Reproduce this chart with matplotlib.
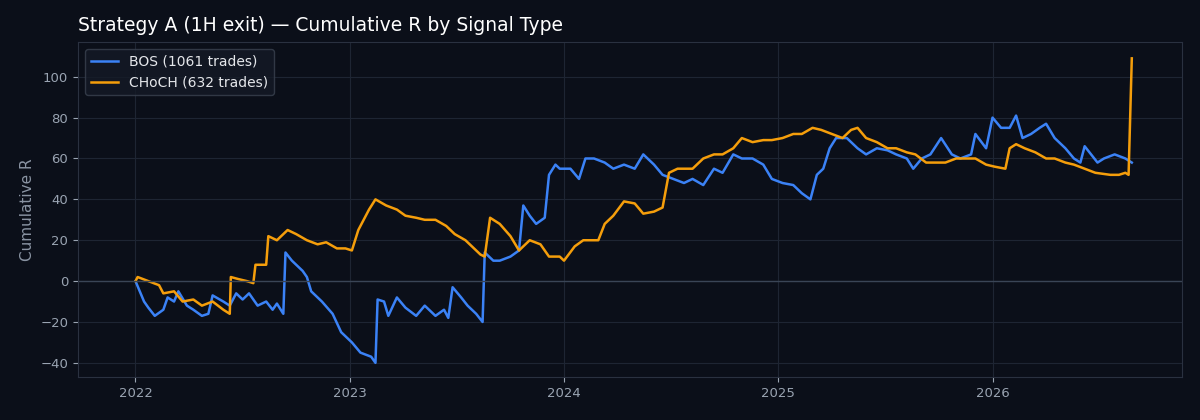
import matplotlib
matplotlib.use("Agg")
import matplotlib.pyplot as plt
import pandas as pd
import numpy as np

# years elapsed since 2022-01-01, cumulative R
bos_t = [0.00,.04,.06,.09,.13,.15,.18,.20,.24,.27,.31,.34,.36,.41,.44,.47,.50,.53,.57,.61,.64,.66,.69,.70,.73,.78,.80,.82,.87,.92,.96,1.01,1.05,1.10,1.12,1.13,1.16,1.18,1.22,1.26,1.31,1.35,1.40,1.44,1.46,1.48,1.52,1.55,1.59,1.62,1.63,1.67,1.70,1.75,1.79,1.81,1.84,1.87,1.91,1.93,1.96,1.98,2.03,2.07,2.10,2.14,2.19,2.23,2.28,2.33,2.37,2.42,2.46,2.51,2.56,2.60,2.65,2.70,2.74,2.79,2.83,2.88,2.93,2.97,3.02,3.07,3.11,3.15,3.18,3.21,3.24,3.27,3.32,3.37,3.41,3.46,3.51,3.55,3.60,3.63,3.67,3.71,3.76,3.81,3.85,3.90,3.92,3.97,4.00,4.04,4.08,4.11,4.14,4.18,4.22,4.25,4.29,4.34,4.38,4.41,4.43,4.46,4.49,4.52,4.57,4.62,4.65]
bos_r = [0,-10,-13,-17,-14,-8,-10,-5,-12,-14,-17,-16,-7,-10,-12,-6,-9,-6,-12,-10,-14,-11,-16,14,10,5,2,-5,-10,-16,-25,-30,-35,-37,-40,-9,-10,-17,-8,-13,-17,-12,-17,-14,-18,-3,-8,-12,-16,-20,14,10,10,12,15,37,32,28,31,52,57,55,55,50,60,60,58,55,57,55,62,57,52,50,48,50,47,55,53,62,60,60,57,50,48,47,43,40,52,55,65,70,70,65,62,65,64,62,60,55,60,62,70,62,60,62,72,65,80,75,75,81,70,72,75,77,70,65,60,58,66,62,58,60,62,60,58]
choch_t = [0.00,.01,.06,.11,.13,.18,.22,.27,.31,.36,.41,.44,.445,.48,.52,.55,.56,.61,.62,.66,.71,.75,.80,.85,.89,.94,.98,1.01,1.04,1.09,1.12,1.17,1.22,1.26,1.31,1.35,1.40,1.45,1.49,1.54,1.59,1.61,1.63,1.655,1.70,1.75,1.79,1.84,1.89,1.93,1.98,2.00,2.05,2.09,2.16,2.19,2.23,2.28,2.33,2.37,2.42,2.46,2.49,2.53,2.60,2.65,2.70,2.74,2.79,2.83,2.88,2.93,2.97,3.02,3.07,3.11,3.16,3.20,3.25,3.30,3.34,3.37,3.41,3.46,3.51,3.55,3.60,3.64,3.69,3.74,3.78,3.83,3.88,3.92,3.97,4.01,4.06,4.08,4.11,4.15,4.20,4.25,4.29,4.34,4.38,4.43,4.48,4.55,4.59,4.62,4.635,4.65]
choch_r = [0,2,0,-2,-6,-5,-10,-9,-12,-10,-14,-16,2,1,0,-1,8,8,22,20,25,23,20,18,19,16,16,15,25,35,40,37,35,32,31,30,30,27,23,20,15,13,12,31,28,22,15,20,18,12,12,10,17,20,20,28,32,39,38,33,34,36,53,55,55,60,62,62,65,70,68,69,69,70,72,72,75,74,72,70,74,75,70,68,65,65,63,62,58,58,58,60,60,60,57,56,55,65,67,65,63,60,60,58,57,55,53,52,52,53,52,109]

start = pd.Timestamp("2022-01-01")
def to_dates(t):
    return [start + pd.Timedelta(days=v * 365.25) for v in t]

bg = "#0b0f19"
fig = plt.figure(figsize=(12, 4.2), dpi=100, facecolor=bg)
ax = fig.add_axes([0.065, 0.102, 0.92, 0.798], facecolor=bg)
ax.plot(to_dates(bos_t), bos_r, color="#3b82f6", lw=1.8, label="BOS (1061 trades)")
ax.plot(to_dates(choch_t), choch_r, color="#f59e0b", lw=1.8, label="CHoCH (632 trades)")
ax.axhline(0, color="#3a4556", lw=1)
ax.grid(True, color="#1e2533", lw=0.8)
ax.set_axisbelow(True)
ax.set_ylim(-47, 117)
ax.set_yticks([-40, -20, 0, 20, 40, 60, 80, 100])
ax.set_xlim(pd.Timestamp("2021-09-25"), pd.Timestamp("2026-11-20"))
ax.set_xticks([pd.Timestamp(f"{y}-01-01") for y in range(2022, 2027)])
ax.set_xticklabels([str(y) for y in range(2022, 2027)])
for s in ax.spines.values():
    s.set_color("#2a3140")
ax.tick_params(colors="#9aa4b2", labelsize=9.5)
ax.set_ylabel("Cumulative R", color="#8a94a3", fontsize=11)
ax.set_title("Strategy A (1H exit) — Cumulative R by Signal Type", loc="left", color="white", fontsize=13.5, pad=8)
leg = ax.legend(loc="upper left", facecolor="#141a26", edgecolor="#3a4250", labelcolor="#e5e7eb", fontsize=10)
fig.savefig("out.png", dpi=100, facecolor=bg)
